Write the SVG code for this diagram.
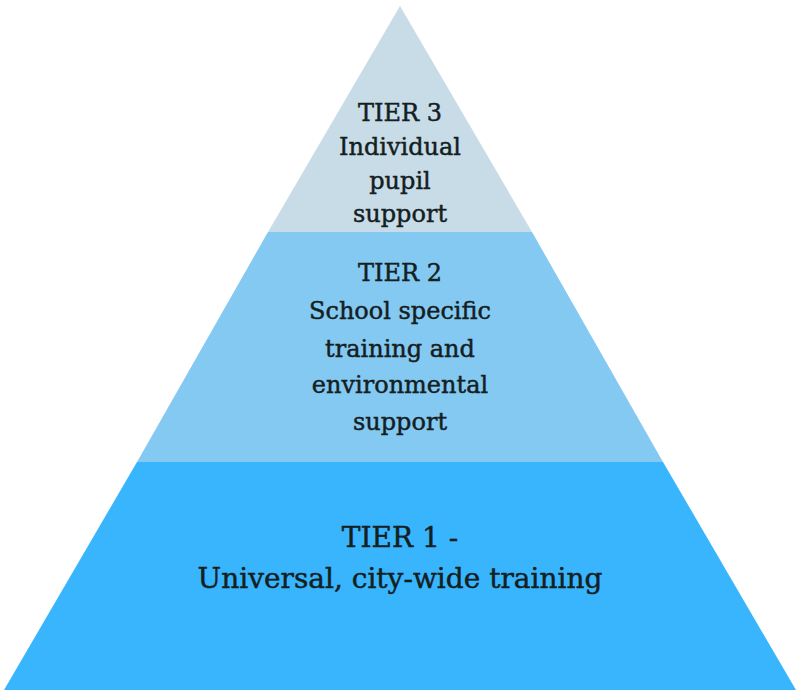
<svg xmlns="http://www.w3.org/2000/svg" width="800" height="695" viewBox="0 0 800 695">
<style>
.t{font-family:"DejaVu Serif","Liberation Serif",serif;fill:#14201f;stroke:#14201f;stroke-width:0.45;text-anchor:middle}
.s3{font-size:24px}
.s1{font-size:28px}
</style>
<rect width="800" height="695" fill="#ffffff"/>
<g id="tier3">
<polygon points="400,6 532,232 268,232" fill="#C8DCE7"/>
<text class="t s3" x="400" y="121">TIER 3</text>
<text class="t s3" x="400" y="155">Individual</text>
<text class="t s3" x="400" y="189">pupil</text>
<text class="t s3" x="400" y="222">support</text>
</g>
<g id="tier2">
<polygon points="268,232 532,232 663,462 137,462" fill="#84C9F1"/>
<text class="t s3" x="400" y="281">TIER 2</text>
<text class="t s3" x="400" y="319">School specific</text>
<text class="t s3" x="400" y="357">training and</text>
<text class="t s3" x="400" y="393">environmental</text>
<text class="t s3" x="400" y="430">support</text>
</g>
<g id="tier1">
<polygon points="137,462 663,462 796,690 4,690" fill="#38B5FD"/>
<text class="t s1" x="400" y="547">TIER 1 -</text>
<text class="t s1" x="400" y="588">Universal, city-wide training</text>
</g>
</svg>
